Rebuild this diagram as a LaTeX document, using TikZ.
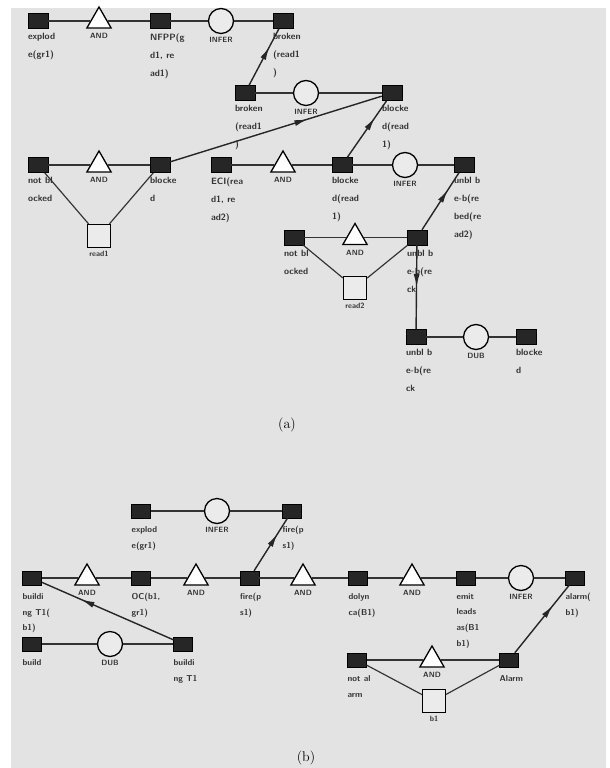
\documentclass[tikz,border=0pt]{standalone}
\usepackage{tikz}
\usetikzlibrary{arrows.meta,positioning,shapes.geometric,decorations.markings}
\definecolor{paper}{HTML}{E3E3E3}
\definecolor{shade}{HTML}{EBEBEB}

\begin{document}
\begin{tikzpicture}[
        x=0.03cm, y=-0.03cm,
        fact/.style={draw=black, fill=black!85, minimum width=0.6cm, minimum height=0.45cm, inner sep=0pt},
        factb/.style={fact, minimum width=0.56cm, minimum height=0.42cm},
        andgate/.style={draw, regular polygon, regular polygon sides=3, line width=1.1pt, fill=white, minimum size=0.84cm, inner sep=0pt},
        infer/.style={draw, circle, line width=1.1pt, fill=shade, minimum size=0.75cm, inner sep=0pt},
        hyp/.style={draw, rectangle, line width=1.1pt, fill=shade, minimum size=0.69cm, inner sep=0pt},
        lbl/.style={anchor=north west, inner sep=0pt, align=left, yshift=-0.13cm, text=black!80, font=\fontsize{7.8}{15.4}\selectfont\sffamily\bfseries},
        lblb/.style={lbl, yshift=-0.11cm, font=\fontsize{7.3}{13.4}\selectfont\sffamily\bfseries},
        tag/.style={inner sep=1pt, text=black!80, font=\fontsize{6.5}{8}\selectfont\sffamily\bfseries},
        link/.style={line width=1pt, black!80},
        flow/.style={line width=1.2pt, black!85, postaction={decorate}, decoration={markings, mark=at position #1 with {\arrow{Latex[length=4mm,width=1.8mm]}}}},
        flow/.default=0.7
    ]
        \useasboundingbox (0,0) rectangle (609,768);
        \fill[paper] (11,8) rectangle (606,768);

        % (a)
        \node[fact] (expa) at (38,21) {};
        \node[andgate] (anda1) at (99,21) {};
        \node[fact] (nfpp) at (160,21) {};
        \node[infer] (infa1) at (221,21) {};
        \node[fact] (brkb) at (283,21) {};
        \node[fact] (brka) at (245,93) {};
        \node[infer] (infa2) at (306,93) {};
        \node[fact] (blkr) at (392,93) {};
        \node[fact] (notb) at (38,165) {};
        \node[andgate] (anda2) at (99,165) {};
        \node[fact] (blkd) at (160,165) {};
        \node[hyp] (readi) at (99,236) {};
        \node[fact] (eci) at (221,165) {};
        \node[andgate] (anda3) at (283,165) {};
        \node[fact] (blkra) at (342,165) {};
        \node[infer] (infa3) at (405,165) {};
        \node[fact] (ubl) at (464,165) {};
        \node[fact] (notc) at (294,237.5) {};
        \node[andgate] (anda4) at (355,237.5) {};
        \node[fact] (ublb) at (417,237.5) {};
        \node[hyp] (readii) at (355,288) {};
        \node[fact] (ublc) at (416,337) {};
        \node[infer] (dub) at (476,337) {};
        \node[fact] (blke) at (526,337) {};

        \node[lbl] (expal) at (expa.south west) {explod\\e(gr1)};
        \node[lbl] (nfppl) at (nfpp.south west) {NFPP(g\\d1, re\\ad1)};
        \node[lbl] (brkbl) at (brkb.south west) {broken\\(read1\\)};
        \node[lbl] (brkal) at (brka.south west) {broken\\(read1\\)};
        \node[lbl] (blkrl) at (blkr.south west) {blocke\\d(read\\1)};
        \node[lbl] (notbl) at (notb.south west) {not bl\\ocked};
        \node[lbl] (blkdl) at (blkd.south west) {blocke\\d};
        \node[lbl] (ecil) at (eci.south west) {ECI(rea\\d1, re\\ad2)};
        \node[lbl] (blkral) at (blkra.south west) {blocke\\d(read\\1)};
        \node[lbl] (ubll) at (ubl.south west) {unbl b\\e-b(re\\bed(re\\ad2)};
        \node[lbl] (notcl) at (notc.south west) {not bl\\ocked};
        \node[lbl] (ublbl) at (ublb.south west) {unbl b\\e-b(re\\ck};
        \node[lbl] (ublcl) at (ublc.south west) {unbl b\\e-b(re\\ck};
        \node[lbl] (blkel) at (blke.south west) {blocke\\d};

        \node[tag, below=3pt of anda1] (anda1l) {AND};
        \node[tag, below=3pt of anda2] (anda2l) {AND};
        \node[tag, below=3pt of anda3] (anda3l) {AND};
        \node[tag, below=3pt of anda4] (anda4l) {AND};
        \node[tag, below=1pt of infa1] (infa1l) {INFER};
        \node[tag, below=1pt of infa2] (infa2l) {INFER};
        \node[tag, below=1pt of infa3] (infa3l) {INFER};
        \node[tag, below=1pt of dub] (dubl) {DUB};
        \node[tag, below=1pt of readi] (readil) {read1};
        \node[tag, below=1pt of readii] (readiil) {read2};

        \draw[link] (expa) -- (anda1) (anda1) -- (nfpp) (nfpp) -- (infa1) (infa1) -- (brkb);
        \draw[link] (brka) -- (infa2) (infa2) -- (blkr);
        \draw[link] (notb) -- (anda2) (anda2) -- (blkd);
        \draw[link] (notb) -- (readi) (readi) -- (blkd);
        \draw[link] (eci) -- (anda3) (anda3) -- (blkra) (blkra) -- (infa3) (infa3) -- (ubl);
        \draw[link] (notc) -- (anda4) (anda4) -- (ublb);
        \draw[link] (notc) -- (readii) (readii) -- (ublb);
        \draw[link] (ublc) -- (dub) (dub) -- (blke);

        \draw[flow=.68] (brka) -- (brkb);
        \draw[flow=.65] (blkd) -- (blkr);
        \draw[flow] (blkra) -- (blkr);
        \draw[flow] (ublb) -- (ubl);
        \draw[flow=.5] (ublb) -- (ublc);

        \node[font=\large] (capa) at (287,425) {(a)};

        % (b)
        \node[factb] (expb) at (141,511) {};
        \node[infer] (infb1) at (217,511) {};
        \node[factb] (fira) at (292,511) {};
        \node[factb] (bldg) at (32,578) {};
        \node[andgate] (andb1) at (87,578) {};
        \node[factb] (ocb) at (141,578) {};
        \node[andgate] (andb2) at (196,578) {};
        \node[factb] (firb) at (249.5,578) {};
        \node[andgate] (andb3) at (303,578) {};
        \node[factb] (dly) at (358,578) {};
        \node[andgate] (andb4) at (412,578) {};
        \node[factb] (emt) at (466,578) {};
        \node[infer] (infb2) at (521,578) {};
        \node[factb] (alm) at (575,578) {};
        \node[factb] (bld) at (32,644) {};
        \node[infer] (dubb) at (110,644) {};
        \node[factb] (bldt) at (183,644) {};
        \node[factb] (nal) at (357,660) {};
        \node[andgate] (andb5) at (432,660) {};
        \node[factb] (alrm) at (509,660) {};
        \node[hyp] (bone) at (434,701) {};

        \node[lblb] (expbl) at (expb.south west) {explod\\e(gr1)};
        \node[lblb] (firal) at (fira.south west) {fire(p\\s1)};
        \node[lblb] (bldgl) at (bldg.south west) {buildi\\ng T1(\\b1)};
        \node[lblb] (ocbl) at (ocb.south west) {OC(b1,\\gr1)};
        \node[lblb] (firbl) at (firb.south west) {fire(p\\s1)};
        \node[lblb] (dlyl) at (dly.south west) {dolyn\\ca(B1)};
        \node[lblb] (emtl) at (emt.south west) {emit\\leads\\as(B1\\b1)};
        \node[lblb] (alml) at (alm.south west) {alarm(\\b1)};
        \node[lblb] (bldl) at (bld.south west) {build};
        \node[lblb] (bldtl) at (bldt.south west) {buildi\\ng T1};
        \node[lblb] (nall) at (nal.south west) {not al\\arm};
        \node[lblb] (alrml) at (alrm.south west) {Alarm};

        \node[tag, below=1pt of infb1] (infb1l) {INFER};
        \node[tag, below=3pt of andb1] (andb1l) {AND};
        \node[tag, below=3pt of andb2] (andb2l) {AND};
        \node[tag, below=3pt of andb3] (andb3l) {AND};
        \node[tag, below=3pt of andb4] (andb4l) {AND};
        \node[tag, below=1pt of infb2] (infb2l) {INFER};
        \node[tag, below=1pt of dubb] (dubbl) {DUB};
        \node[tag, below=3pt of andb5] (andb5l) {AND};
        \node[tag, below=1pt of bone] (bonel) {b1};

        \draw[link] (expb) -- (infb1) (infb1) -- (fira);
        \draw[link] (bldg) -- (andb1) (andb1) -- (ocb) (ocb) -- (andb2) (andb2) -- (firb)
            (firb) -- (andb3) (andb3) -- (dly) (dly) -- (andb4) (andb4) -- (emt)
            (emt) -- (infb2) (infb2) -- (alm);
        \draw[link] (bld) -- (dubb) (dubb) -- (bldt);
        \draw[link] (nal) -- (andb5) (andb5) -- (alrm);
        \draw[link] (nal) -- (bone) (bone) -- (alrm);

        \draw[flow] (firb) -- (fira);
        \draw[flow] (bldt) -- (bldg);
        \draw[flow] (alrm) -- (alm);

        \node[font=\large] (capb) at (306,758) {(b)};
    \end{tikzpicture}
\end{document}
